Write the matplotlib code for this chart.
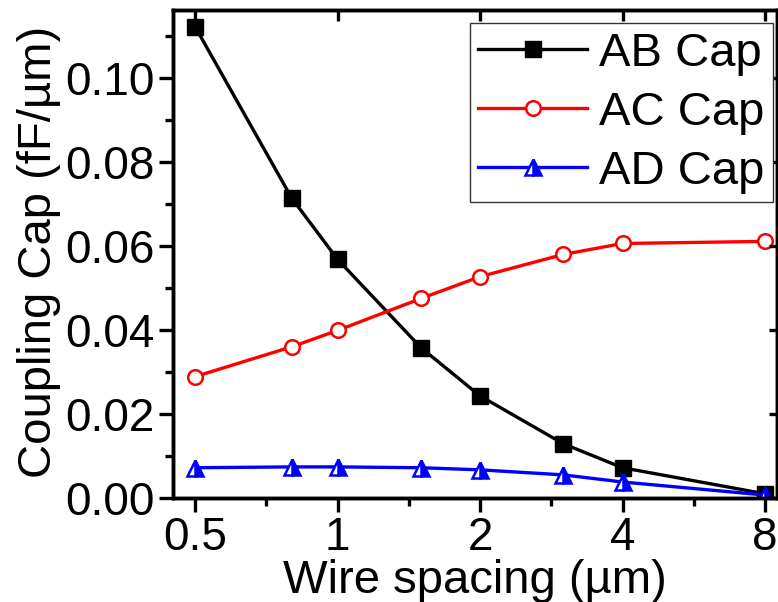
import matplotlib
matplotlib.use("Agg")
import matplotlib.pyplot as plt
from matplotlib.ticker import FixedLocator, NullFormatter, NullLocator, MultipleLocator, FormatStrFormatter

plt.rcParams['font.family'] = ['Liberation Sans', 'DejaVu Sans']

spacing = [0.5, 0.8, 1, 1.5, 2, 3, 4, 8]
ab_cap = [0.1122, 0.0714, 0.0568, 0.0358, 0.0243, 0.0129, 0.0072, 0.0010]
ac_cap = [0.0289, 0.0360, 0.0399, 0.0475, 0.0527, 0.0580, 0.0606, 0.0611]
ad_cap = [0.0072, 0.0074, 0.0074, 0.0072, 0.0067, 0.0055, 0.0038, 0.0007]
xticks = [0.5, 1, 2, 4, 8]
xtick_labels = ['0.5', '1', '2', '4', '8']
xminor = [0.7071, 1.4142, 2.8284, 5.6569]

XLIM = (0.449, 8.48)
YLIM = (0, 0.1162)

fig = plt.figure(figsize=(7.78, 6.02), dpi=100)
ax = fig.add_axes([0.2224, 0.1728, 0.7763, 0.8106])

lw = 2.4
ax.plot(spacing, ab_cap, color='black', lw=lw, marker='s', ms=11, mfc='black', mec='black', label='AB Cap')
ax.plot(spacing, ac_cap, color='red', lw=lw, marker='o', ms=10.5, mfc='white', mec='red', mew=1.8, label='AC Cap')
ax.plot(spacing, ad_cap, color='blue', lw=lw, marker='^', ms=12, mfc='blue', mec='blue', mew=1.8,
        fillstyle='right', markerfacecoloralt='white', label='AD Cap')

ax.set_xscale('log', base=2)
ax.set_xlim(*XLIM)
ax.set_ylim(*YLIM)
ax.xaxis.set_major_locator(FixedLocator(xticks))
ax.set_xticklabels(xtick_labels)
ax.xaxis.set_minor_locator(FixedLocator(xminor))
ax.xaxis.set_minor_formatter(NullFormatter())
ax.yaxis.set_major_locator(MultipleLocator(0.02))
ax.yaxis.set_minor_locator(MultipleLocator(0.01))
ax.yaxis.set_major_formatter(FormatStrFormatter('%.2f'))

for s in ax.spines.values():
    s.set_linewidth(2.4)

ax.tick_params(axis='both', which='major', labelsize=33, length=10, width=2.4, direction='out', pad=3)
ax.tick_params(axis='both', which='minor', length=6, width=2.4, direction='out')

# top ticks (inward, major only)
axt = ax.twiny()
axt.set_xscale('log', base=2)
axt.set_xlim(*XLIM)
axt.xaxis.set_major_locator(FixedLocator(xticks))
axt.xaxis.set_minor_locator(NullLocator())
axt.tick_params(axis='x', which='major', direction='in', length=8, width=2.4, labeltop=False)
# right ticks (inward, major only)
axr = ax.twinx()
axr.set_ylim(*YLIM)
axr.yaxis.set_major_locator(MultipleLocator(0.02))
axr.yaxis.set_minor_locator(NullLocator())
axr.tick_params(axis='y', which='major', direction='in', length=6, width=2.4, labelright=False)
for a in (axt, axr):
    for s in a.spines.values():
        s.set_linewidth(2.4)

ax.set_xlabel('Wire spacing (µm)', fontsize=34, labelpad=-1)
ax.set_ylabel('Coupling Cap (fF/µm)', fontsize=34)
ax.yaxis.set_label_coords(-0.186, 0.505)

handles, labels = ax.get_legend_handles_labels()
leg = axr.legend(handles, labels, loc='upper right', fontsize=34, frameon=True, fancybox=False,
                 edgecolor='#333333', framealpha=1,
                 handlelength=2.3, handletextpad=0.25, borderpad=0.18, labelspacing=0.32,
                 borderaxespad=0, bbox_to_anchor=(0.993, 0.973))
leg.get_frame().set_linewidth(1.0)

fig.savefig('out.png', dpi=100)
